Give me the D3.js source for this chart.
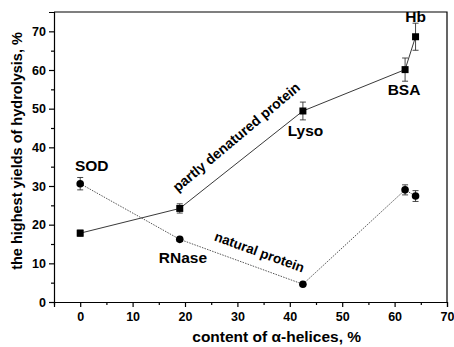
<!DOCTYPE html>
<html>
<head>
<meta charset="utf-8">
<script src="https://cdn.jsdelivr.net/npm/d3@7"></script>
<style>
  body { margin: 0; background: #fff; }
  text { font-family: "Liberation Sans", Arial, sans-serif; font-weight: bold; }
</style>
</head>
<body>
<div id="container"></div>
<script>
// alpha-helix content of each protein, %
const helix = [0, 19, 42.5, 62, 64];
const proteins = ['SOD', 'RNase', 'Lyso', 'BSA', 'Hb'];
// partly denatured protein (squares)
const denatured = [17.8, 24.2, 49.4, 60.1, 68.6];
const denaturedErr = [0.8, 1.2, 2.3, 3.0, 3.5];
// natural protein (circles)
const natural = [30.6, 16.2, 4.6, 29.0, 27.4];
const naturalErr = [1.6, 0.5, 0.3, 1.3, 1.4];
const xTicks = [0, 10, 20, 30, 40, 50, 60, 70];
const yTicks = [0, 10, 20, 30, 40, 50, 60, 70];

const width = 454, height = 347;
const margin = {left: 54, right: 7, top: 12, bottom: 45};

const svg = d3.select('#container').append('svg')
    .attr('width', width)
    .attr('height', height);

const x = d3.scaleLinear().domain([-5, 70]).range([margin.left, width - margin.right]);
const y = d3.scaleLinear().domain([0, 75]).range([height - margin.bottom, margin.top]);

//Axes: major ticks with labels, minor ticks between
svg.append('g')
    .attr('transform', `translate(0,${y(0)})`)
    .call(d3.axisBottom(x).tickValues(xTicks).tickSize(5).tickPadding(5).tickFormat(d3.format('d')));
svg.append('g')
    .attr('transform', `translate(0,${y(0)})`)
    .call(d3.axisBottom(x).tickValues(d3.range(-5, 70, 10)).tickSize(3).tickFormat(''))
    .select('.domain').remove();

svg.append('g')
    .attr('transform', `translate(${x(-5)},0)`)
    .call(d3.axisLeft(y).tickValues(yTicks).tickSize(5).tickPadding(3).tickFormat(d3.format('d')));
svg.append('g')
    .attr('transform', `translate(${x(-5)},0)`)
    .call(d3.axisLeft(y).tickValues(d3.range(5, 75, 10)).tickSize(3).tickFormat(''))
    .select('.domain').remove();

svg.selectAll('.domain, .tick line').attr('stroke', '#000').attr('stroke-width', 1.2);
svg.selectAll('.tick text').attr('font-size', 12.5).attr('fill', '#000');

// top and right sides of the frame
svg.append('path')
    .attr('d', `M${x(-5)},${y(75)}H${x(70)}V${y(0)}`)
    .attr('fill', 'none')
    .attr('stroke', '#000')
    .attr('stroke-width', 1.2);

//Axis titles
svg.append('text')
    .attr('x', x(37.5))
    .attr('y', 342)
    .attr('text-anchor', 'middle')
    .attr('font-size', 15.5)
    .text('content of α-helices, %');

svg.append('text')
    .attr('transform', `translate(22,${(y(0) + y(75)) / 2 - 6}) rotate(-90)`)
    .attr('text-anchor', 'middle')
    .attr('font-size', 14.5)
    .text('the highest yields of hydrolysis, %');

//Series lines
const line = d3.line().x(d => x(d[0])).y(d => y(d[1]));

svg.append('path')
    .datum(helix.map((h, i) => [h, natural[i]]))
    .attr('d', line)
    .attr('fill', 'none')
    .attr('stroke', '#444')
    .attr('stroke-width', 0.9)
    .attr('stroke-dasharray', '1.5,1.2');

svg.append('path')
    .datum(helix.map((h, i) => [h, denatured[i]]))
    .attr('d', line)
    .attr('fill', 'none')
    .attr('stroke', '#222')
    .attr('stroke-width', 0.9);

//Error bars
function errorBars(vals, errs) {
    const g = svg.append('g').attr('stroke', '#333').attr('stroke-width', 0.9).attr('fill', 'none');
    helix.forEach((h, i) => {
        const cx = x(h), y1 = y(vals[i] - errs[i]), y2 = y(vals[i] + errs[i]);
        g.append('path').attr('d', `M${cx},${y1}V${y2}M${cx - 3},${y1}h6M${cx - 3},${y2}h6`);
    });
}
errorBars(natural, naturalErr);
errorBars(denatured, denaturedErr);

//Markers
svg.append('g').selectAll('rect')
    .data(helix.map((h, i) => [h, denatured[i]]))
    .enter().append('rect')
    .attr('x', d => x(d[0]) - 3.5)
    .attr('y', d => y(d[1]) - 3.5)
    .attr('width', 7)
    .attr('height', 7)
    .attr('fill', '#000');

svg.append('g').selectAll('circle')
    .data(helix.map((h, i) => [h, natural[i]]))
    .enter().append('circle')
    .attr('cx', d => x(d[0]))
    .attr('cy', d => y(d[1]))
    .attr('r', 3.8)
    .attr('fill', '#000');

//Protein labels (anchored to data coords)
const labelPos = [[2.2, 34], [19.6, 10], [43.0, 43], [61.8, 53.5], [64.0, 72.5]];
svg.append('g').selectAll('text')
    .data(proteins)
    .enter().append('text')
    .attr('x', (d, i) => x(labelPos[i][0]))
    .attr('y', (d, i) => y(labelPos[i][1]))
    .attr('text-anchor', 'middle')
    .attr('font-size', 15.5)
    .text(d => d);

//Series labels along the lines
svg.append('text')
    .attr('transform', `translate(${x(30.4)},${y(41.7)}) rotate(-40)`)
    .attr('text-anchor', 'middle')
    .attr('font-size', 14)
    .text('partly denatured protein');

svg.append('text')
    .attr('transform', `translate(${x(33.9)},${y(11.8)}) rotate(20)`)
    .attr('text-anchor', 'middle')
    .attr('font-size', 13.5)
    .text('natural protein');
</script>
</body>
</html>
